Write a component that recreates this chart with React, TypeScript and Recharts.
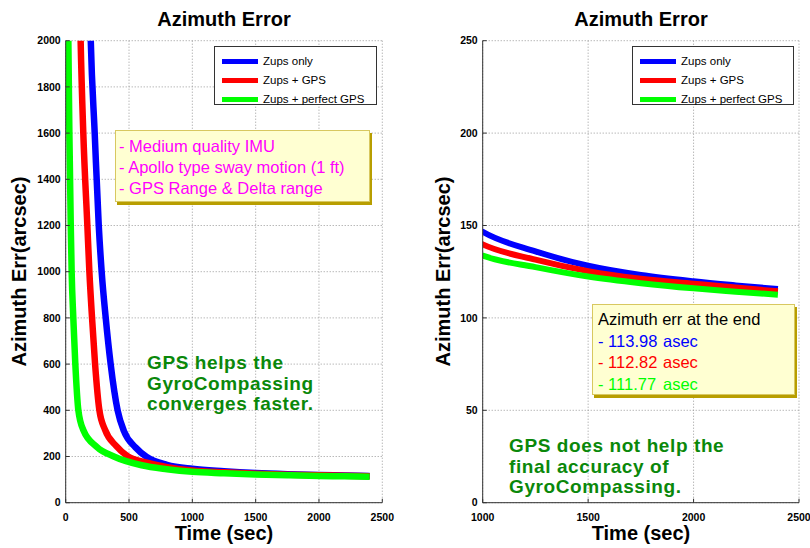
import { LineChart, Line, XAxis, YAxis, CartesianGrid } from 'recharts';

// time (sec) and azimuth error (arcsec)
const blueTime = [180, 198, 229, 261, 284, 316, 355, 410, 460, 550, 640, 800, 1000, 1250, 1500, 1750, 2000, 2200, 2400];
const blueErr = [2450, 2000, 1600, 1200, 1000, 800, 600, 400, 310, 240, 198, 164, 146.6, 136, 128.2, 123.2, 119.8, 117.6, 115.6];

const redTime = [105, 118, 139, 171, 187, 208, 232, 266, 311, 400, 480, 650, 800, 1000, 1250, 1500, 1750, 2000, 2200, 2400];
const redErr = [2400, 2000, 1600, 1200, 1000, 800, 600, 400, 315, 245, 205, 172, 154, 139.8, 131.5, 125.3, 121.2, 118.5, 116.4, 114.4];

const greenTime = [12, 21, 29, 40, 47, 60, 76, 100, 139, 245, 380, 600, 800, 1000, 1250, 1500, 1750, 2000, 2200, 2400];
const greenErr = [2600, 2000, 1600, 1200, 1000, 800, 600, 400, 315, 242, 200, 162, 145, 133.7, 127.5, 122.4, 118.8, 116, 114.2, 112.5];

const seriesNames = ['Zups only', 'Zups + GPS', 'Zups + perfect GPS'];
const seriesColors = ['#0000ff', '#ff0000', '#00ff00'];
const endValues = ['113.98', '112.82', '111.77'];

const leftXTicks = [0, 500, 1000, 1500, 2000, 2500];
const leftYTicks = [0, 200, 400, 600, 800, 1000, 1200, 1400, 1600, 1800, 2000];
const rightXTicks = [1000, 1500, 2000, 2500];
const rightYTicks = [0, 50, 100, 150, 200, 250];

const imuNotes = ['- Medium quality IMU', '- Apollo type sway motion (1 ft)', '- GPS Range & Delta range'];
const leftMessage = ['GPS helps the', 'GyroCompassing', 'converges faster.'];
const rightMessage = ['GPS does not help the', 'final accuracy of', 'GyroCompassing.'];

const toPoints = (time: number[], err: number[]) => time.map((t, i) => ({ t, v: err[i] }));
const series = [toPoints(blueTime, blueErr), toPoints(redTime, redErr), toPoints(greenTime, greenErr)];

const FONT = '"Liberation Sans", Arial, sans-serif';
const FRAME = '#333333';
const tickStyle = { fontSize: 10.5, fontWeight: 'bold', fill: '#000', fontFamily: FONT };

interface PanelProps {
  left: number;
  marginLeft: number;
  marginRight: number;
  xDomain: [number, number];
  xTicks: number[];
  yDomain: [number, number];
  yTicks: number[];
  width: number;
}

const Panel = ({ left, marginLeft, marginRight, xDomain, xTicks, yDomain, yTicks, width }: PanelProps) => (
  <div style={{ position: 'absolute', left, top: 0 }}>
    <LineChart width={400} height={548} margin={{ top: 40.7, right: marginRight, bottom: 15.3, left: marginLeft }}>
      <CartesianGrid stroke="#999" strokeDasharray="1 2" horizontalValues={yTicks} verticalValues={xTicks} />
      <XAxis
        type="number"
        dataKey="t"
        domain={xDomain}
        ticks={xTicks}
        allowDataOverflow
        height={30}
        tickLine={{ stroke: FRAME }}
        tickSize={-4}
        tickMargin={15}
        tick={tickStyle}
        axisLine={{ stroke: FRAME }}
      />
      <XAxis xAxisId="top" orientation="top" type="number" domain={xDomain} height={0} tick={false} tickLine={false} axisLine={{ stroke: FRAME }} />
      <YAxis
        type="number"
        domain={yDomain}
        ticks={yTicks}
        allowDataOverflow
        width={60}
        tickLine={{ stroke: FRAME }}
        tickSize={-4}
        tickMargin={9}
        tick={tickStyle}
        axisLine={{ stroke: FRAME }}
      />
      <YAxis yAxisId="right" orientation="right" type="number" domain={yDomain} width={0} tick={false} tickLine={false} axisLine={{ stroke: FRAME }} />
      {series.map((data, i) => (
        <Line
          key={seriesNames[i]}
          data={data}
          dataKey="v"
          type="monotone"
          stroke={seriesColors[i]}
          strokeWidth={width}
          dot={false}
          isAnimationActive={false}
        />
      ))}
    </LineChart>
  </div>
);

const LegendBox = ({ x, y, w }: { x: number; y: number; w: number }) => (
  <div
    style={{
      position: 'absolute',
      left: x,
      top: y,
      width: w,
      height: 59,
      background: '#fff',
      border: `1px solid ${FRAME}`,
      boxSizing: 'border-box',
      fontFamily: FONT,
      fontSize: 11.5,
    }}
  >
    {seriesNames.map((name, i) => (
      <div key={name} style={{ position: 'absolute', left: 7, top: 5 + i * 19, height: 18, display: 'flex', alignItems: 'center' }}>
        <span style={{ display: 'inline-block', width: 36, height: 5, background: seriesColors[i], marginRight: 5 }} />
        <span>{name}</span>
      </div>
    ))}
  </div>
);

const noteBox = {
  position: 'absolute' as const,
  background: '#ffffd2',
  border: '1px solid #d8c860',
  boxShadow: '2px 3px 0 #b89e00',
  boxSizing: 'border-box' as const,
  fontFamily: FONT,
  fontSize: 16.5,
};

const title = {
  position: 'absolute' as const,
  fontFamily: FONT,
  fontWeight: 'bold' as const,
  fontSize: 20,
  textAlign: 'center' as const,
  whiteSpace: 'nowrap' as const,
};

const message = {
  position: 'absolute' as const,
  fontFamily: FONT,
  fontWeight: 'bold' as const,
  fontSize: 19,
  letterSpacing: 0.6,
  lineHeight: '20.5px',
  color: '#0a880a',
  whiteSpace: 'nowrap' as const,
};

const YLabel = ({ cx }: { cx: number }) => (
  <div style={{ ...title, left: cx - 110, top: 260, width: 220, transform: 'rotate(-90deg)' }}>Azimuth Err(arcsec)</div>
);

export default function App() {
  return (
    <div style={{ position: 'absolute', left: 0, top: 0, width: 810, height: 548, background: '#fff', overflow: 'hidden' }}>
      <Panel left={0} marginLeft={5.7} marginRight={17.7} xDomain={[0, 2500]} xTicks={leftXTicks} yDomain={[0, 2000]} yTicks={leftYTicks} width={6.5} />
      <Panel left={410} marginLeft={12.7} marginRight={11} xDomain={[1000, 2500]} xTicks={rightXTicks} yDomain={[0, 250]} yTicks={rightYTicks} width={6} />

      <div style={{ ...title, left: 124, top: 8, width: 200 }}>Azimuth Error</div>
      <div style={{ ...title, left: 541, top: 8, width: 200 }}>Azimuth Error</div>
      <div style={{ ...title, left: 124, top: 522, width: 200 }}>Time (sec)</div>
      <div style={{ ...title, left: 541, top: 522, width: 200 }}>Time (sec)</div>
      <YLabel cx={19} />
      <YLabel cx={443} />

      <LegendBox x={214} y={46} w={163} />
      <LegendBox x={632} y={46} w={162} />

      <div style={{ ...noteBox, left: 115, top: 130, width: 255, height: 72, color: '#ff00ff', padding: '5px 0 0 3px', lineHeight: '21px' }}>
        {imuNotes.map((n) => (
          <div key={n}>{n}</div>
        ))}
      </div>

      <div style={{ ...noteBox, left: 592, top: 304, width: 203, height: 91, padding: '4px 0 0 5px', lineHeight: '21.7px' }}>
        <div style={{ color: '#000' }}>Azimuth err at the end</div>
        {endValues.map((v, i) => (
          <div key={v} style={{ color: seriesColors[i], display: 'flex' }}>
            <span style={{ width: 65 }}>{'- ' + v}</span>
            <span>asec</span>
          </div>
        ))}
      </div>

      <div style={{ ...message, left: 147, top: 353 }}>
        {leftMessage.map((m) => (
          <div key={m}>{m}</div>
        ))}
      </div>
      <div style={{ ...message, left: 509, top: 436 }}>
        {rightMessage.map((m) => (
          <div key={m}>{m}</div>
        ))}
      </div>
    </div>
  );
}
